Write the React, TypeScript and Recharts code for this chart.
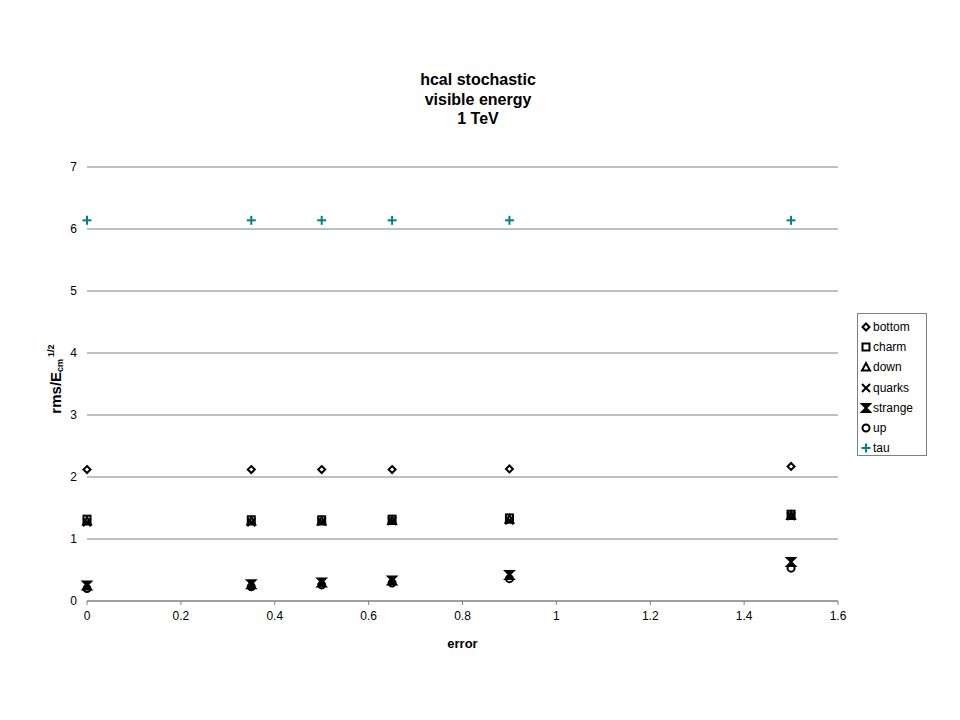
import React from 'react';
import { ScatterChart, Scatter, XAxis, YAxis, CartesianGrid, Label } from 'recharts';

const errors = [0, 0.35, 0.5, 0.65, 0.9, 1.5];
const bottom = [2.12, 2.12, 2.12, 2.12, 2.13, 2.17];
const charm = [1.32, 1.31, 1.31, 1.32, 1.34, 1.4];
const down = [1.29, 1.29, 1.29, 1.3, 1.32, 1.38];
const quarks = [1.27, 1.27, 1.28, 1.29, 1.3, 1.37];
const strange = [0.25, 0.27, 0.3, 0.33, 0.42, 0.63];
const up = [0.2, 0.23, 0.26, 0.29, 0.36, 0.53];
const tau = [6.14, 6.14, 6.14, 6.14, 6.14, 6.14];

const xTicks = [0, 0.2, 0.4, 0.6, 0.8, 1, 1.2, 1.4, 1.6];
const yTicks = [0, 1, 2, 3, 4, 5, 6, 7];
const titleLines = ['hcal stochastic', 'visible energy', '1 TeV'];

const FONT = '"Liberation Sans", Arial, sans-serif';
const TEAL = '#008080';

const toPts = (ys: number[]) => errors.map((x, i) => ({ x, y: ys[i] }));

type MarkerKind = 'diamond' | 'square' | 'triangle' | 'x' | 'star' | 'circle' | 'plus';

function Marker({ kind, cx, cy }: { kind: MarkerKind; cx: number; cy: number }) {
  const s = 3.5;
  switch (kind) {
    case 'diamond':
      return <polygon points={`${cx},${cy - s} ${cx + s},${cy} ${cx},${cy + s} ${cx - s},${cy}`} fill="white" stroke="black" strokeWidth={2} />;
    case 'square':
      return <rect x={cx - 3.5} y={cy - 3.5} width={7} height={7} fill="none" stroke="black" strokeWidth={2} />;
    case 'triangle':
      return <polygon points={`${cx},${cy - 4} ${cx + 4},${cy + 3.5} ${cx - 4},${cy + 3.5}`} fill="none" stroke="black" strokeWidth={2} />;
    case 'x':
      return (
        <g stroke="black" strokeWidth={2}>
          <line x1={cx - 4} y1={cy - 4} x2={cx + 4} y2={cy + 4} />
          <line x1={cx - 4} y1={cy + 4} x2={cx + 4} y2={cy - 4} />
        </g>
      );
    case 'star':
      return (
        <g stroke="black" strokeWidth={2}>
          <polygon points={`${cx - 4},${cy - 4} ${cx + 4},${cy - 4} ${cx - 4},${cy + 4} ${cx + 4},${cy + 4}`} fill="black" />
        </g>
      );
    case 'circle':
      return <circle cx={cx} cy={cy} r={3.5} fill="none" stroke="black" strokeWidth={2} />;
    case 'plus':
      return (
        <g stroke={TEAL} strokeWidth={2}>
          <line x1={cx - 4.5} y1={cy} x2={cx + 4.5} y2={cy} />
          <line x1={cx} y1={cy - 4.5} x2={cx} y2={cy + 4.5} />
        </g>
      );
  }
  return null;
}

const series: { name: string; values: number[]; kind: MarkerKind }[] = [
  { name: 'bottom', values: bottom, kind: 'diamond' },
  { name: 'charm', values: charm, kind: 'square' },
  { name: 'down', values: down, kind: 'triangle' },
  { name: 'quarks', values: quarks, kind: 'x' },
  { name: 'strange', values: strange, kind: 'star' },
  { name: 'up', values: up, kind: 'circle' },
  { name: 'tau', values: tau, kind: 'plus' },
];

const YLabel = (props: any) => {
  const vb = props.viewBox || {};
  const cx = 61;
  const cy = vb.y + vb.height / 2 - 5;
  return (
    <text
      x={cx}
      y={cy}
      transform={`rotate(-90, ${cx}, ${cy})`}
      textAnchor="middle"
      fontFamily={FONT}
      fontWeight="bold"
      fontSize={15}
      fill="black"
    >
      <tspan>rms/E</tspan>
      <tspan fontSize={9} dy={2}>cm</tspan>
      <tspan fontSize={9} dy={-9} dx={2}>1/2</tspan>
    </text>
  );
};

export default function App() {
  return (
    <div style={{ position: 'absolute', left: 0, top: 0, width: 960, height: 720, background: 'white', fontFamily: FONT }}>
      <div style={{ position: 'absolute', left: 378, top: 70, width: 200, textAlign: 'center', fontWeight: 'bold', fontSize: 16, lineHeight: '19.5px', color: 'black' }}>
        {titleLines.map((t) => (
          <div key={t}>{t}</div>
        ))}
      </div>
      <ScatterChart width={960} height={720} margin={{ top: 167, right: 122, bottom: 0, left: 0 }}>
        <CartesianGrid vertical={false} stroke="#808080" strokeWidth={1} />
        <XAxis
          type="number"
          dataKey="x"
          domain={[0, 1.6]}
          ticks={xTicks}
          interval={0}
          height={119}
          stroke="#808080"
          tickSize={4}
          tickMargin={6}
          tick={{ fill: 'black', fontSize: 12, fontFamily: FONT }}
        >
          <Label value="error" position="insideTop" offset={38} style={{ fontWeight: 'bold', fontSize: 13, fontFamily: FONT, fill: 'black' }} />
        </XAxis>
        <YAxis
          type="number"
          dataKey="y"
          domain={[0, 7]}
          ticks={yTicks}
          interval={0}
          width={87}
          axisLine={false}
          tickLine={false}
          tickSize={6}
          tickMargin={4}
          tick={{ fill: 'black', fontSize: 12, fontFamily: FONT }}
        >
          <Label content={<YLabel />} />
        </YAxis>
        {series.map((s) => (
          <Scatter
            key={s.name}
            name={s.name}
            data={toPts(s.values)}
            isAnimationActive={false}
            shape={(p: any) => <Marker kind={s.kind} cx={p.cx} cy={p.cy} />}
          />
        ))}
      </ScatterChart>
      <div style={{ position: 'absolute', left: 857, top: 313, width: 70, height: 143, border: '1px solid #808080', background: 'white', fontSize: 12, paddingTop: 3, boxSizing: 'border-box' }}>
        {series.map((s) => (
          <div key={s.name} style={{ display: 'flex', alignItems: 'center', height: 20.2 }}>
            <svg width={14} height={14} style={{ marginLeft: 1 }}>
              <Marker kind={s.kind} cx={7} cy={7} />
            </svg>
            <span>{s.name}</span>
          </div>
        ))}
      </div>
    </div>
  );
}
